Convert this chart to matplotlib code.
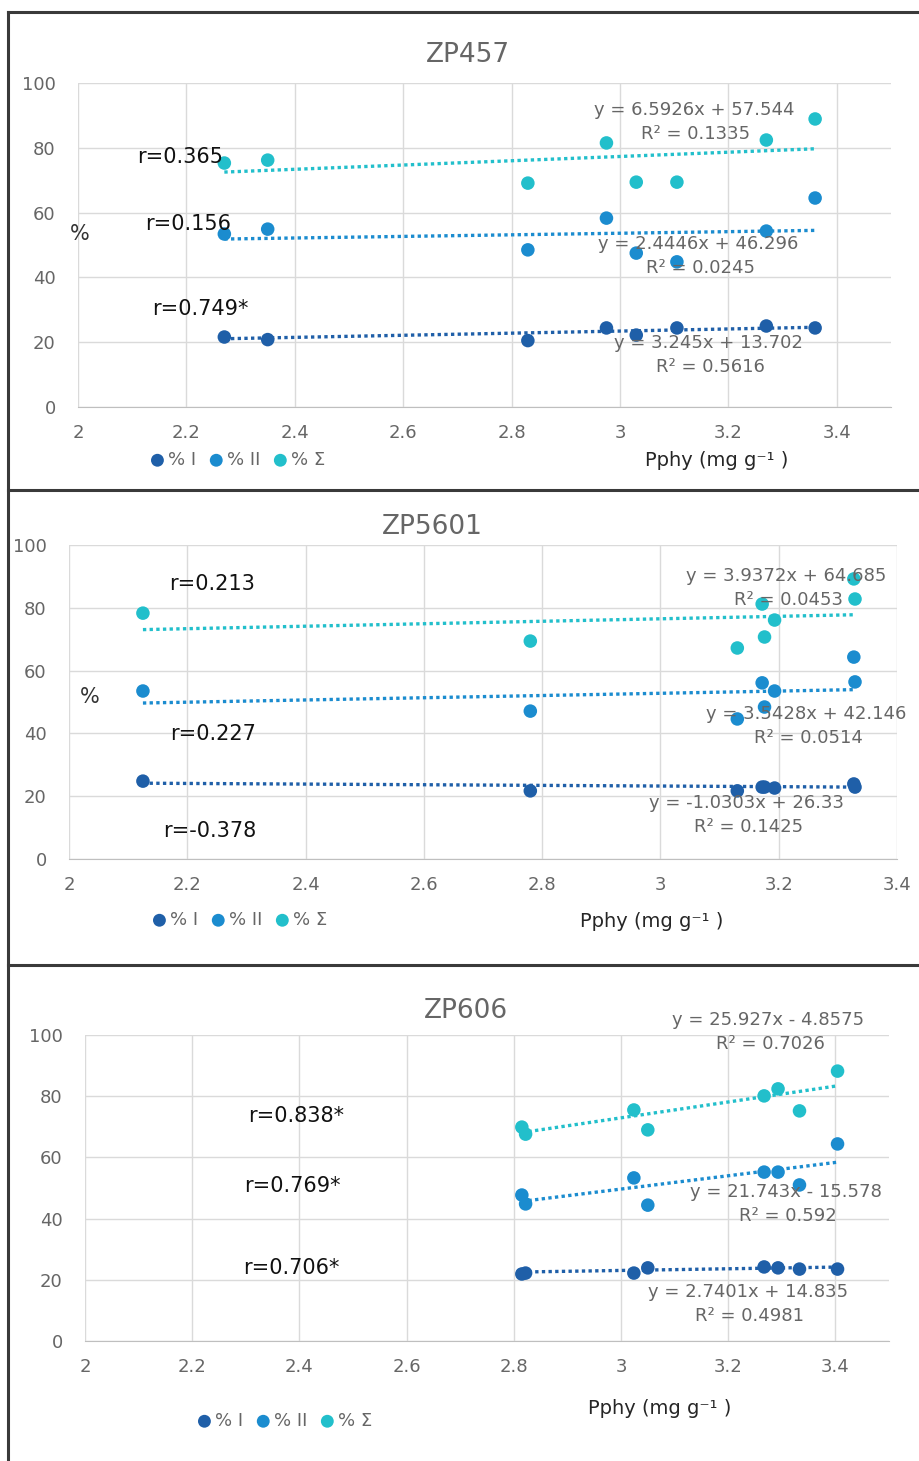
import numpy as np
import matplotlib
matplotlib.use("Agg")
import matplotlib.pyplot as plt
from matplotlib.lines import Line2D

plt.rcParams['font.family'] = ['DejaVu Sans']

# ==========================================
# data
# ==========================================
SERIES_NAMES = ['% I', '% II', '% Σ']

ZP457_X = [2.27, 2.35, 2.83, 2.975, 3.03, 3.105, 3.27, 3.36]
ZP457_I = [21.6, 20.8, 20.5, 24.4, 22.2, 24.4, 25.0, 24.4]
ZP457_II = [53.4, 54.9, 48.5, 58.3, 47.5, 44.8, 54.3, 64.5]
ZP457_S = [75.3, 76.2, 69.1, 81.5, 69.4, 69.4, 82.4, 88.9]
ZP457_SLOPE = [3.245, 2.4446, 6.5926]
ZP457_INTERCEPT = [13.702, 46.296, 57.544]
ZP457_R2 = ['0.5616', '0.0245', '0.1335']
ZP457_R = ['r=0.749*', 'r=0.156', 'r=0.365']

ZP5601_X = [2.125, 2.78, 3.13, 3.172, 3.176, 3.193, 3.327, 3.329]
ZP5601_I = [24.8, 21.7, 21.7, 22.9, 22.9, 22.6, 23.9, 22.9]
ZP5601_II = [53.5, 47.1, 44.6, 56.1, 48.4, 53.5, 64.3, 56.4]
ZP5601_S = [78.3, 69.4, 67.2, 81.2, 70.7, 76.1, 89.2, 82.8]
ZP5601_SLOPE = [-1.0303, 3.5428, 3.9372]
ZP5601_INTERCEPT = [26.33, 42.146, 64.685]
ZP5601_R2 = ['0.1425', '0.0514', '0.0453']
ZP5601_R = ['r=-0.378', 'r=0.227', 'r=0.213']

ZP606_X = [2.815, 2.822, 3.024, 3.05, 3.267, 3.293, 3.333, 3.404]
ZP606_I = [21.9, 22.2, 22.2, 23.9, 24.2, 23.9, 23.5, 23.5]
ZP606_II = [47.7, 44.8, 53.3, 44.4, 55.2, 55.2, 51.0, 64.4]
ZP606_S = [69.9, 67.6, 75.5, 69.0, 80.1, 82.4, 75.2, 88.2]
ZP606_SLOPE = [2.7401, 21.743, 25.927]
ZP606_INTERCEPT = [14.835, -15.578, -4.8575]
ZP606_R2 = ['0.4981', '0.592', '0.7026']
ZP606_R = ['r=0.706*', 'r=0.769*', 'r=0.838*']

X_TICKS = [2, 2.2, 2.4, 2.6, 2.8, 3, 3.2, 3.4]
X_TICK_LABELS = ['2', '2.2', '2.4', '2.6', '2.8', '3', '3.2', '3.4']
Y_TICKS = [0, 20, 40, 60, 80, 100]

# ==========================================
# layout (pixels of the 920x1461 picture)
# ==========================================
W, H = 920, 1461
COLORS = ['#1f5fa8', '#1b8ccf', '#22bfcb']
GRAY = '#666666'
GRID = '#dadada'

PANELS = [
    {
        "title": "ZP457", "x": ZP457_X, "ys": [ZP457_I, ZP457_II, ZP457_S],
        "slope": ZP457_SLOPE, "icpt": ZP457_INTERCEPT, "r2": ZP457_R2, "r": ZP457_R,
        "box": (78, 891, 83, 407), "xmax": 3.5, "title_xy": (468, 55),
        "r_xy": [(200, 309), (188, 224), (180, 157)], "pct_xy": (80, 234),
        "eq_xy": [(708, 343), (698, 244), (694, 110)],
        "leg_xy": (236, 460), "xlab_xy": (717, 461),
    },
    {
        "title": "ZP5601", "x": ZP5601_X, "ys": [ZP5601_I, ZP5601_II, ZP5601_S],
        "slope": ZP5601_SLOPE, "icpt": ZP5601_INTERCEPT, "r2": ZP5601_R2, "r": ZP5601_R,
        "box": (69, 897, 545, 859), "xmax": 3.4, "title_xy": (432, 527),
        "r_xy": [(210, 831), (213, 734), (212, 584)], "pct_xy": (90, 697),
        "eq_xy": [(747, 803), (806, 714), (786, 576)],
        "leg_xy": (238, 920), "xlab_xy": (652, 922),
    },
    {
        "title": "ZP606", "x": ZP606_X, "ys": [ZP606_I, ZP606_II, ZP606_S],
        "slope": ZP606_SLOPE, "icpt": ZP606_INTERCEPT, "r2": ZP606_R2, "r": ZP606_R,
        "box": (85, 889, 1035, 1341), "xmax": 3.5, "title_xy": (466, 1011),
        "r_xy": [(291, 1268), (292, 1186), (296, 1116)], "pct_xy": None,
        "eq_xy": [(748, 1292), (786, 1192), (768, 1020)],
        "leg_xy": (283, 1421), "xlab_xy": (660, 1408),
    },
]


def fx(px):
    return px / W


def fy(py):
    return 1 - py / H


def fmt_eq(slope, icpt):
    sign = '+' if icpt >= 0 else '-'
    return f"y = {slope:g}x {sign} {abs(icpt):g}"


fig = plt.figure(figsize=(W / 100, H / 100), dpi=100)
fig.patch.set_facecolor('white')

for p in PANELS:
    l, r, t, b = p["box"]
    ax = fig.add_axes([fx(l), fy(b), fx(r - l), (b - t) / H])
    ax.set_xlim(2, p["xmax"])
    ax.set_ylim(0, 100)
    ax.set_xticks(X_TICKS)
    ax.set_xticklabels(X_TICK_LABELS)
    ax.set_yticks(Y_TICKS)
    ax.grid(True, color=GRID, linewidth=1)
    ax.set_axisbelow(True)
    for s in ['top', 'right', 'left']:
        ax.spines[s].set_visible(False)
    ax.spines['bottom'].set_color('#bfbfbf')
    ax.tick_params(length=0, labelsize=13, labelcolor=GRAY)
    ax.tick_params(axis='x', pad=12)
    ax.tick_params(axis='y', pad=16)

    x = np.array(p["x"])
    handles = []
    for k in range(3):
        h = ax.scatter(x, p["ys"][k], s=95, color=COLORS[k], zorder=3,
                       edgecolors='none')
        handles.append(h)
        xs = np.array([x.min(), x.max()])
        ax.plot(xs, p["slope"][k] * xs + p["icpt"][k], color=COLORS[k],
                linestyle=(0, (1, 1)), linewidth=2.4, zorder=2)

    # texts
    fig.text(fx(p["title_xy"][0]), fy(p["title_xy"][1]), p["title"],
             ha='center', va='center', fontsize=19, color=GRAY)
    for k in range(3):
        rx, ry = p["r_xy"][k]
        fig.text(fx(rx), fy(ry), p["r"][k], ha='center', va='center',
                 fontsize=15, color='#111111')
        ex, ey = p["eq_xy"][k]
        fig.text(fx(ex), fy(ey), fmt_eq(p["slope"][k], p["icpt"][k]),
                 ha='center', va='center', fontsize=13, color=GRAY)
        fig.text(fx(ex + 2), fy(ey + 24), f"R² = {p['r2'][k]}",
                 ha='center', va='center', fontsize=13, color=GRAY)
    if p["pct_xy"] is not None:
        fig.text(fx(p["pct_xy"][0]), fy(p["pct_xy"][1]), '%', ha='center',
                 va='center', fontsize=15, color='#333333')
    fig.text(fx(p["xlab_xy"][0]), fy(p["xlab_xy"][1]), 'Pphy (mg g⁻¹ )',
             ha='center', va='center', fontsize=14, color='#262626')
    lx, ly = p["leg_xy"]
    fig.legend(handles, SERIES_NAMES, loc='center', ncol=3, frameon=False,
               bbox_to_anchor=(fx(lx), fy(ly)), fontsize=13,
               handletextpad=0.0, columnspacing=0.5, markerscale=0.95,
               labelcolor=GRAY, borderpad=0, handlelength=1.2)

# panel frames
frame_kw = dict(color='#3a3a3a', linewidth=2.2, transform=fig.transFigure)
fig.add_artist(Line2D([fx(8), 1], [fy(12), fy(12)], **frame_kw))
fig.add_artist(Line2D([fx(8), 1], [fy(490), fy(490)], **frame_kw))
fig.add_artist(Line2D([fx(8), 1], [fy(965), fy(965)], **frame_kw))
fig.add_artist(Line2D([fx(8), fx(8)], [fy(12), 0], **frame_kw))

fig.savefig('out.png', dpi=100)
